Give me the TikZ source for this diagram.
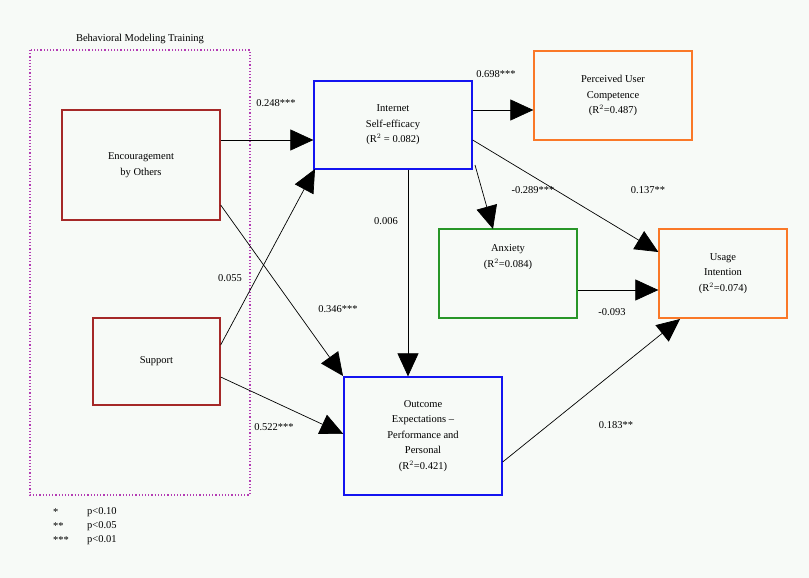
\documentclass[tikz,border=0pt]{standalone}
\usepackage{fontspec}
\setmainfont{Liberation Serif}
\usetikzlibrary{arrows.meta}
\definecolor{bg}{RGB}{247,250,247}
\definecolor{boxred}{RGB}{165,40,40}
\definecolor{boxblue}{RGB}{20,20,240}
\definecolor{boxorange}{RGB}{250,120,40}
\definecolor{boxgreen}{RGB}{40,150,40}
\definecolor{dotmag}{RGB}{180,60,180}
\begin{document}
\begin{tikzpicture}[x=1pt,y=-1pt,
  every node/.style={font=\fontsize{10.5}{15.5}\selectfont},
  vbox/.style={draw,line width=1.3pt,align=center,inner sep=0pt},
  lbl/.style={font=\fontsize{10.5}{12}\selectfont,inner sep=1pt},
  link/.style={draw,line width=0.7pt,-{Triangle[length=23pt,width=21pt]}}]
\fill[bg] (0,0) rectangle (809,578);
\useasboundingbox (0,0) rectangle (809,578);
% behavioral modeling training group
\draw[dotmag,line width=1.2pt,dotted] (30,50) rectangle (250,495);
\node (grp) at (140,39) {Behavioral Modeling Training};
% nodes
\node[vbox,boxred,text=black,minimum width=158pt,minimum height=110pt] (enc) at (141,165) {Encouragement\\by Others};
\node[vbox,boxred,text=black,minimum width=127pt,minimum height=87pt] (sup) at (156.5,361.5) {Support};
\node[vbox,boxblue,text=black,minimum width=158pt,minimum height=88pt] (ise) at (393,125) {Internet\\Self-efficacy\\(R$^2$ = 0.082)};
\node[vbox,boxorange,text=black,minimum width=158pt,minimum height=89pt] (puc) at (613,95.5) {Perceived User\\Competence\\(R$^2$=0.487)};
\node[vbox,boxgreen,text=black,minimum width=138pt,minimum height=89pt] (anx) at (508,273.5) {};
\node[align=center] (anxt) at (508,257) {Anxiety\\(R$^2$=0.084)};
\node[vbox,boxorange,text=black,minimum width=128pt,minimum height=89pt] (usi) at (723,273.5) {Usage\\Intention\\(R$^2$=0.074)};
\node[vbox,boxblue,text=black,minimum width=158pt,minimum height=118pt] (oep) at (423,436) {Outcome\\Expectations --\\Performance and\\Personal\\(R$^2$=0.421)};
% coordinates for connector ends
\coordinate (encR1) at (enc.east |- 0,140);
\coordinate (encR2) at (enc.east |- 0,205);
\coordinate (supR1) at (sup.east |- 0,345);
\coordinate (supR2) at (sup.east |- 0,377);
\coordinate (iseL) at (ise.west |- 0,140);
\coordinate (iseR1) at (ise.east |- 0,110);
\coordinate (iseR2) at (ise.east |- 0,140);
\coordinate (iseBR) at (475,165);
\coordinate (pucL) at (puc.west |- 0,110);
\coordinate (anxT) at (493,229);
\coordinate (anxR) at (anx.east |- 0,290);
\coordinate (usiL1) at (usi.west |- 0,252);
\coordinate (usiL2) at (usi.west |- 0,290);
\coordinate (usiB) at (680,319);
\coordinate (oepT) at (oep.north -| 408,0);
\coordinate (oepTL) at (343,376);
\coordinate (oepL) at (oep.west |- 0,434);
\coordinate (oepR) at (oep.east |- 0,462);
\coordinate (iseBL) at (315,169);
\coordinate (iseB) at (ise.south -| 408,0);
% connectors
\draw[link] (encR1) -- (iseL);
\draw[link] (iseR1) -- (pucL);
\draw[link] (iseB) -- (oepT);
\draw[link] (iseBR) -- (anxT);
\draw[link] (iseR2) -- (usiL1);
\draw[link] (anxR) -- (usiL2);
\draw[link] (encR2) -- (oepTL);
\draw[link] (supR1) -- (iseBL);
\draw[link] (supR2) -- (oepL);
\draw[link] (oepR) -- (usiB);
% labels
\node[lbl] (l1) at (276,103) {0.248***};
\node[lbl] (l2) at (496,74) {0.698***};
\node[lbl] (l3) at (386,221) {0.006};
\node[lbl] (l4) at (533,190) {-0.289***};
\node[lbl] (l5) at (648,190) {0.137**};
\node[lbl] (l6) at (612,312) {-0.093};
\node[lbl] (l7) at (338,309) {0.346***};
\node[lbl] (l8) at (230,278) {0.055};
\node[lbl] (l9) at (274,427) {0.522***};
\node[lbl] (l10) at (616,425) {0.183**};
% legend
\node[lbl,anchor=west] (k1) at (52,512) {*};
\node[lbl,anchor=west] (k2) at (52,526) {**};
\node[lbl,anchor=west] (k3) at (52,540) {***};
\node[lbl,anchor=west] (v1) at (86,512) {p<0.10};
\node[lbl,anchor=west] (v2) at (86,526) {p<0.05};
\node[lbl,anchor=west] (v3) at (86,540) {p<0.01};
\end{tikzpicture}
\end{document}
